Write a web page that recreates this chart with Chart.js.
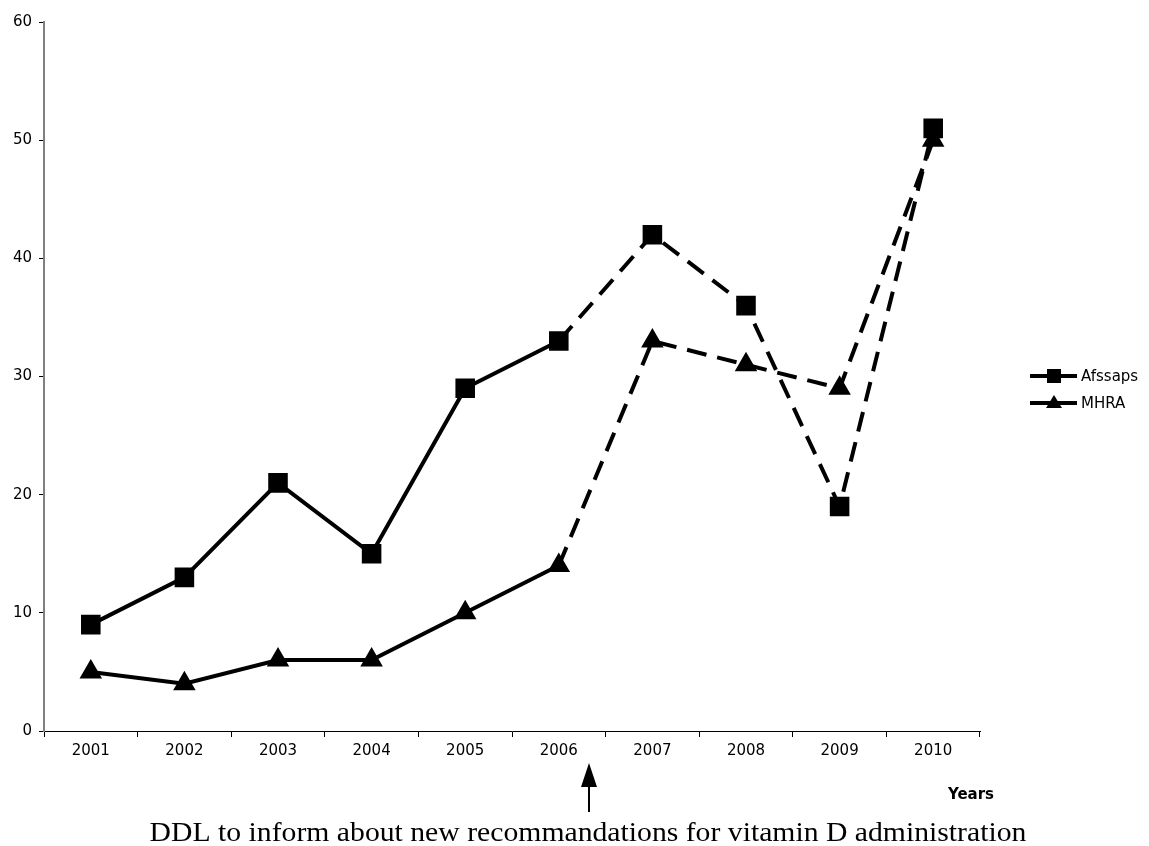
<!DOCTYPE html>
<html>
<head>
<meta charset="utf-8">
<script src="https://cdn.jsdelivr.net/npm/chart.js@4.4.0/dist/chart.umd.min.js"></script>
<style>
    html, body { margin: 0; padding: 0; background: #fff; }
    #wrap { width: 1149px; height: 846px; }
</style>
</head>
<body>
<div id="wrap"><canvas id="chart" width="1149" height="846"></canvas></div>
<script>
// data
const years = ['2001', '2002', '2003', '2004', '2005', '2006', '2007', '2008', '2009', '2010'];
const afssaps = [9, 13, 21, 15, 29, 33, 42, 36, 19, 51];
const mhra = [5, 4, 6, 6, 10, 14, 33, 31, 29, 50];
const yTicks = [0, 10, 20, 30, 40, 50, 60];
const dashFrom = 5; // segments after 2006 are dashed
const noteText = 'DDL to inform about new recommandations for vitamin D administration';

const tickFont = { family: 'DejaVu Sans', size: 15 };

// legend, axis title and the arrow note are drawn by hand
const extrasPlugin = {
    id: 'extras',
    afterDraw: function(chart) {
        const ctx = chart.ctx;
        ctx.save();
        ctx.fillStyle = '#000';
        ctx.strokeStyle = '#000';

        // legend
        const items = [
            { label: 'Afssaps', style: 'rect', y: 376 },
            { label: 'MHRA', style: 'triangle', y: 403 }
        ];
        items.forEach(function(it) {
            ctx.lineWidth = 4;
            ctx.beginPath();
            ctx.moveTo(1030, it.y);
            ctx.lineTo(1077, it.y);
            ctx.stroke();
            ctx.beginPath();
            if (it.style === 'rect') {
                ctx.rect(1047, it.y - 7, 14, 14);
            } else {
                ctx.moveTo(1054, it.y - 8);
                ctx.lineTo(1062, it.y + 5);
                ctx.lineTo(1046, it.y + 5);
                ctx.closePath();
            }
            ctx.fill();
            ctx.font = '15px "DejaVu Sans"';
            ctx.textBaseline = 'middle';
            ctx.textAlign = 'left';
            ctx.fillText(it.label, 1081, it.y + 1);
        });

        // axis title
        ctx.font = 'bold 15px "DejaVu Sans"';
        ctx.textAlign = 'right';
        ctx.textBaseline = 'middle';
        ctx.fillText('Years', 994, 795);

        // arrow pointing at the gap between 2006 and 2007
        const ax = 589;
        ctx.lineWidth = 2;
        ctx.beginPath();
        ctx.moveTo(ax, 780);
        ctx.lineTo(ax, 812);
        ctx.stroke();
        ctx.beginPath();
        ctx.moveTo(ax, 763);
        ctx.lineTo(ax + 8, 787);
        ctx.lineTo(ax - 8, 787);
        ctx.closePath();
        ctx.fill();

        // note under the arrow, slightly stretched like the original
        ctx.translate(588, 841);
        ctx.scale(1.1, 1);
        ctx.font = '27px "Liberation Serif"';
        ctx.textAlign = 'center';
        ctx.textBaseline = 'alphabetic';
        ctx.fillText(noteText, 0, 0);
        ctx.restore();
    }
};

const dashed = function(c) {
    return c.p0DataIndex >= dashFrom ? [20, 11] : undefined;
};

new Chart(document.getElementById('chart'), {
    type: 'line',
    data: {
        labels: years,
        datasets: [
            {
                label: 'Afssaps',
                data: afssaps,
                borderColor: '#000',
                backgroundColor: '#000',
                borderWidth: 4,
                pointStyle: 'rect',
                pointRadius: 11,
                pointHoverRadius: 11,
                tension: 0,
                segment: { borderDash: dashed }
            },
            {
                label: 'MHRA',
                data: mhra,
                borderColor: '#000',
                backgroundColor: '#000',
                borderWidth: 4,
                pointStyle: 'triangle',
                pointRadius: 9,
                pointHoverRadius: 9,
                tension: 0,
                segment: { borderDash: dashed }
            }
        ]
    },
    options: {
        responsive: false,
        animation: false,
        events: [],
        layout: { padding: { top: 22, right: 169, left: 0, bottom: 0 } },
        plugins: {
            legend: { display: false },
            tooltip: { enabled: false }
        },
        scales: {
            x: {
                offset: true,
                grid: { offset: true, drawOnChartArea: false, tickLength: 6, color: '#000', lineWidth: 1 },
                border: { color: '#000', width: 1 },
                ticks: { color: '#000', font: tickFont, padding: 5, maxRotation: 0 },
                afterFit: function(s) { s.height = 115; }
            },
            y: {
                min: 0,
                max: 60,
                afterBuildTicks: function(s) { s.ticks = yTicks.map(v => ({ value: v })); },
                grid: { drawOnChartArea: false, tickLength: 5, color: '#000', lineWidth: 1 },
                border: { color: '#808080', width: 2 },
                ticks: { color: '#000', font: tickFont, padding: 7 },
                afterFit: function(s) { s.width = 44; }
            }
        }
    },
    plugins: [extrasPlugin]
});
</script>
</body>
</html>
